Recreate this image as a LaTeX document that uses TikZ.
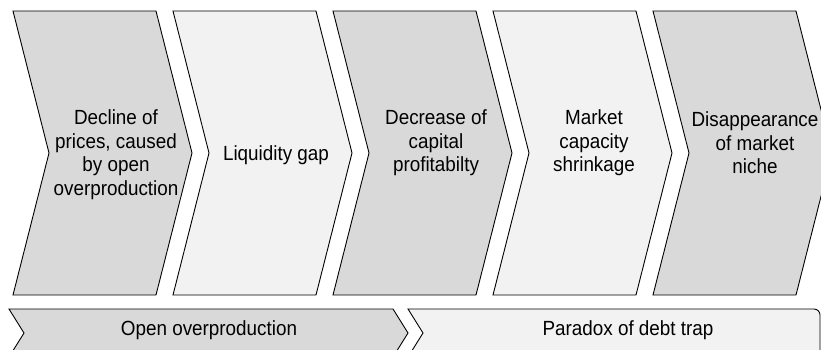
\documentclass[tikz,border=0pt]{standalone}
\usepackage{fontspec}
\setmainfont{Liberation Sans}[FakeStretch=0.92]
\definecolor{darkfill}{HTML}{D9D9D9}
\definecolor{lightfill}{HTML}{F2F2F2}
\tikzset{
  chevdark/.style={draw=black, line width=0.9pt, fill=darkfill},
  chevlight/.style={draw=black, line width=0.9pt, fill=lightfill},
  steptext/.style={align=center, inner sep=0pt, font=\fontsize{20.5}{23.5}\selectfont}
}
\begin{document}
\begin{tikzpicture}[x=1pt,y=1pt,yscale=-1]
\useasboundingbox (0,0) rectangle (821,350);
\clip (0,0) rectangle (821,350);

%Shape: Chevron 1
\draw [chevdark] (13,11) -- (156,11) -- (192,153) -- (156,295) -- (13,295) -- (49,153) -- cycle ;
%Shape: Chevron 2
\draw [chevlight] (173,11) -- (316,11) -- (352,153) -- (316,295) -- (173,295) -- (209,153) -- cycle ;
%Shape: Chevron 3
\draw [chevdark] (333,11) -- (476,11) -- (512,153) -- (476,295) -- (333,295) -- (369,153) -- cycle ;
%Shape: Chevron 4
\draw [chevlight] (493,11) -- (636,11) -- (672,153) -- (636,295) -- (493,295) -- (529,153) -- cycle ;
%Shape: Chevron 5
\draw [chevdark] (653,11) -- (796,11) -- (832,153) -- (796,295) -- (653,295) -- (689,153) -- cycle ;

%Shape: Band 1
\draw [chevdark] (9,309) -- (393,309) -- (408,333) -- (393,357) -- (9,357) -- (24,333) -- cycle ;
%Shape: Band 2
\draw [chevlight] (423,333) -- (408,309) [rounded corners=6] -- (820,309) -- (820,357) [sharp corners] -- (408,357) -- cycle ;

% Text Node
\draw (116,154.5) node (decline) [steptext] {Decline of\\prices, caused\\by open\\overproduction};
% Text Node
\draw (276,155) node (liquidity) [steptext] {Liquidity gap};
% Text Node
\draw (436,143) node (decrease) [steptext] {Decrease of\\capital\\profitabilty};
% Text Node
\draw (594,143) node (market) [steptext] {Market\\capacity\\shrinkage};
% Text Node
\draw (755,143) node (niche) [steptext] {Disappearance\\of market\\niche};
% Text Node
\draw (209,330) node (openover) [steptext] {Open overproduction};
% Text Node
\draw (628,330) node (paradox) [steptext] {Paradox of debt trap};
\end{tikzpicture}
\end{document}
